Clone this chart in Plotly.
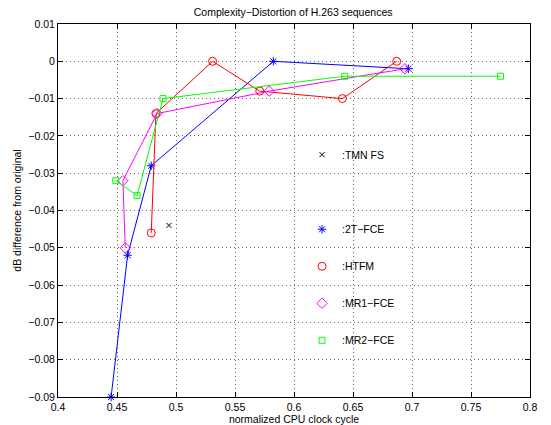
import plotly.graph_objects as go

# ---- data ----
tmn_x = [0.494]
tmn_y = [-0.044]

fce2_x = [0.445, 0.459, 0.479, 0.5825, 0.697]
fce2_y = [-0.090, -0.052, -0.028, 0.000, -0.002]

htfm_x = [0.479, 0.483, 0.531, 0.571, 0.641, 0.687]
htfm_y = [-0.046, -0.014, 0.000, -0.008, -0.010, 0.000]

mr1_x = [0.457, 0.455, 0.484, 0.579, 0.694]
mr1_y = [-0.050, -0.032, -0.014, -0.008, -0.002]

mr2_x = [0.449, 0.467, 0.489, 0.643, 0.775]
mr2_y = [-0.032, -0.036, -0.010, -0.004, -0.004]

x_ticks = [0.4, 0.45, 0.5, 0.55, 0.6, 0.65, 0.7, 0.75, 0.8]
x_ticktext = ["0.4", "0.45", "0.5", "0.55", "0.6", "0.65", "0.7", "0.75", "0.8"]
y_ticks = [0.01, 0.0, -0.01, -0.02, -0.03, -0.04, -0.05, -0.06, -0.07, -0.08, -0.09]
y_ticktext = ["0.01", "0", "\u22120.01", "\u22120.02", "\u22120.03", "\u22120.04",
              "\u22120.05", "\u22120.06", "\u22120.07", "\u22120.08", "\u22120.09"]

FONT = "Liberation Sans, Arial, Helvetica, sans-serif"

series = [
    # name, x, y, color, symbol, size, mode, legend
    (":TMN FS", tmn_x, tmn_y, "#000000", "x-thin-open", 5, "markers", "legend"),
    (":2T\u2212FCE", fce2_x, fce2_y, "#0000ff", "asterisk-open", 7, "lines+markers", "legend2"),
    (":HTFM", htfm_x, htfm_y, "#ff0000", "circle-open", 8, "lines+markers", "legend2"),
    (":MR1\u2212FCE", mr1_x, mr1_y, "#ff00ff", "diamond-open", 8, "lines+markers", "legend2"),
    (":MR2\u2212FCE", mr2_x, mr2_y, "#00ff00", "square-open", 6, "lines+markers", "legend2"),
]

fig = go.Figure()
for i, (name, xs, ys, col, sym, sz, mode, lg) in enumerate(series):
    fig.add_trace(go.Scatter(
        x=xs, y=ys, mode=mode, name=name, showlegend=False,
        line=dict(color=col, width=1),
        marker=dict(symbol=sym, size=sz, color=col, line=dict(color=col, width=1)),
        cliponaxis=False,
    ))
    # legend-only marker entry
    fig.add_trace(go.Scatter(
        x=[None], y=[None], mode="markers", name=name, legend=lg,
        legendgroup="g%d" % i,
        marker=dict(symbol=sym, size=sz, color=col, line=dict(color=col, width=1)),
    ))

axis_common = dict(
    showline=True, linecolor="black", linewidth=1, mirror="ticks",
    ticks="inside", ticklen=5, tickcolor="black", tickwidth=1,
    showgrid=True, gridcolor="rgba(0,0,0,0.6)", griddash="1px,3px", gridwidth=1,
    zeroline=False, automargin=False,
    tickfont=dict(family=FONT, size=10.5, color="black"),
)

fig.update_xaxes(range=[0.4, 0.8], tickvals=x_ticks, ticktext=x_ticktext,
                 title=dict(text="normalized CPU clock cycle", standoff=2,
                            font=dict(family=FONT, size=10.5, color="black")),
                 **axis_common)
fig.update_yaxes(range=[-0.09, 0.01], tickvals=y_ticks, ticktext=y_ticktext,
                 title=dict(text="dB difference from original", standoff=4,
                            font=dict(family=FONT, size=10.5, color="black")),
                 **axis_common)

legend_common = dict(
    xanchor="left", yanchor="top", bgcolor="rgba(0,0,0,0)", borderwidth=0,
    font=dict(family=FONT, size=10.5, color="black"), tracegroupgap=18,
    traceorder="grouped", itemwidth=30,
)
fig.update_layout(
    width=551, height=425,
    margin=dict(l=58, r=21, t=24, b=28),
    paper_bgcolor="white", plot_bgcolor="white",
    title=dict(text="Complexity\u2212Distortion of H.263 sequences", x=0.532, xanchor="center",
               y=0.972, yanchor="middle",
               font=dict(family=FONT, size=10.5, color="black")),
    legend=dict(x=0.517, y=0.6887, **legend_common),
    legend2=dict(x=0.517, y=0.4885, **legend_common),
    font=dict(family=FONT, size=10.5, color="black"),
)

fig.write_html("out.html", config={"displayModeBar": False},
               post_script="document.body.style.margin='0';")
